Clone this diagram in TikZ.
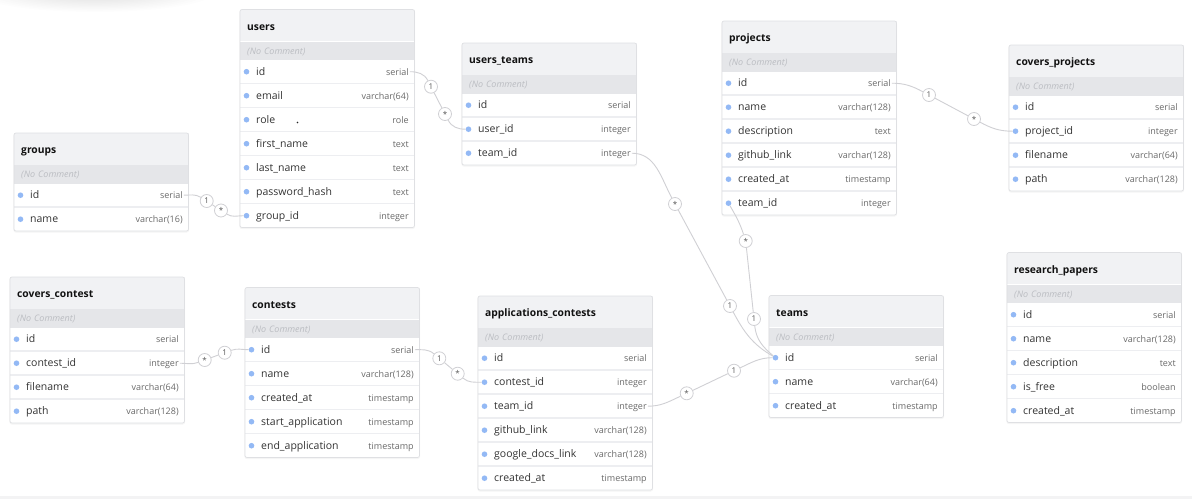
\documentclass[tikz,border=0pt]{standalone}
\usepackage{fontspec}
\setmainfont{Open Sans}
\definecolor{hdrfill}{HTML}{F1F2F4}
\definecolor{cmtfill}{HTML}{E5E6E9}
\definecolor{titlec}{HTML}{111111}
\definecolor{fieldc}{HTML}{333333}
\definecolor{typec}{HTML}{6A6A6A}
\definecolor{cmtc}{HTML}{BBBDC2}
\definecolor{dotc}{HTML}{93B9F5}
\definecolor{sepc}{HTML}{EDEEF1}
\definecolor{borderc}{HTML}{DFE0E3}
\definecolor{connc}{HTML}{D0D0D4}
\definecolor{lblc}{HTML}{555555}
\definecolor{stripc}{HTML}{F3F3F4}
\tikzset{
  erhdr/.style={anchor=north west, fill=hdrfill, minimum width=174.5pt, minimum height=31.5pt,
    inner xsep=7pt, inner ysep=0pt, text width=160.5pt, align=left,
    font=\bfseries\fontsize{10.3pt}{12pt}\selectfont, text=titlec, text height=11pt, text depth=1pt},
  ercmt/.style={anchor=north west, fill=cmtfill, minimum height=18.5pt, inner xsep=7pt,
    inner ysep=0pt, text width=160.5pt, align=left,
    font=\itshape\fontsize{9pt}{10pt}\selectfont, text=cmtc, text height=6.8pt, text depth=0pt},
  errow/.style={anchor=north west, minimum width=174.5pt, minimum height=24pt, inner sep=0pt},
  erdot/.style={circle, fill=dotc, minimum size=5.6pt, inner sep=0pt},
  erfield/.style={anchor=west, inner sep=0pt, font=\fontsize{10.5pt}{12pt}\selectfont,
    text=fieldc, text height=8.6pt, text depth=1.5pt},
  ertype/.style={anchor=east, inner sep=1pt, font=\fontsize{9pt}{10pt}\selectfont,
    text=typec, text height=8pt, text depth=0.5pt},
  ersep/.style={draw=sepc, line width=1.2pt},
  erborder/.style={draw=borderc, line width=0.7pt},
  ershadow/.style={fill=black, opacity=0.04},
  conn/.style={draw=connc, line width=0.9pt},
  lbl/.style={circle, draw=connc, line width=0.8pt, fill=white, minimum size=13pt, inner sep=0pt,
    font=\fontsize{8pt}{9pt}\selectfont, text=lblc},
}
\newcommand\ertable[6]{%
  \pgfmathsetmacro\erbot{#3+50+24*#4}%
  \fill[ershadow, rounded corners=2.5pt] ({#2-0.6},{#3+0.4}) rectangle ({#2+175.1},{\erbot+1.6});
  \fill[white, rounded corners=2pt] (#2,#3) rectangle ({#2+174.5},\erbot);
  \node[erhdr] (#1) at (#2,#3) {#5};
  \node[ercmt] (#1-c) at (#1.south west) {(No Comment)};
  \foreach \f/\t [count=\i] in {#6} {%
    \node[errow] (#1-\i) at ({#2},{#3+50+24*(\i-1)}) {};
    \ifnum\i>1 \draw[ersep] (#1-\i.north west) -- (#1-\i.north east);\fi
    \node[erdot] (#1-\i-d) at ([xshift=6.5pt]#1-\i.west) {};
    \node[erfield] (#1-\i-n) at ([xshift=16pt]#1-\i.west) {\f};
    \node[ertype] (#1-\i-t) at ([xshift=-5pt]#1-\i.east) {\t};
  }%
  \draw[erborder, rounded corners=2pt] (#2,#3) rectangle ({#2+174.5},\erbot);
}
\begin{document}
\begin{tikzpicture}[x=1pt, y=-1pt]
\useasboundingbox (0,0) rectangle (1192,499);
\fill[white] (0,0) rectangle (1192,499);
\fill[stripc] (0,496) rectangle (1192,499);
\foreach \k in {0,...,11} {
  \pgfmathsetmacro\ra{120-7*\k}
  \pgfmathsetmacro\rb{20-1.2*\k}
  \fill[black, opacity=0.006] (95,-8) ellipse [x radius=\ra pt, y radius=\rb pt];
}

\ertable{users}{240}{9.5}{7}{users}{id/serial, email/varchar(64), role/role, first\_name/text, last\_name/text, password\_hash/text, group\_id/integer}
\ertable{ut}{462}{43}{3}{users\_teams}{id/serial, user\_id/integer, team\_id/integer}
\ertable{grp}{14}{133}{2}{groups}{id/serial, name/varchar(16)}
\ertable{proj}{722}{21}{6}{projects}{id/serial, name/varchar(128), description/text, github\_link/varchar(128), created\_at/timestamp, team\_id/integer}
\ertable{cproj}{1009}{45}{4}{covers\_projects}{id/serial, project\_id/integer, filename/varchar(64), path/varchar(128)}
\ertable{ccont}{10}{277}{4}{covers\_contest}{id/serial, contest\_id/integer, filename/varchar(64), path/varchar(128)}
\ertable{cont}{245}{287.5}{5}{contests}{id/serial, name/varchar(128), created\_at/timestamp, start\_application/timestamp, end\_application/timestamp}
\ertable{app}{478}{296}{6}{applications\_contests}{id/serial, contest\_id/integer, team\_id/integer, github\_link/varchar(128), google\_docs\_link/varchar(128), created\_at/timestamp}
\ertable{teams}{769}{295.5}{3}{teams}{id/serial, name/varchar(64), created\_at/timestamp}
\ertable{rp}{1007}{252.5}{5}{research\_papers}{id/serial, name/varchar(128), description/text, is\_free/boolean, created\_at/timestamp}

\node[circle, fill=black!85, minimum size=1.6pt, inner sep=0pt] (stray) at (297.5,122.5) {};

% relation labels
\node[lbl] (c1a) at (431,86.7) {1};
\node[lbl] (c1b) at (445,114) {*};
\node[lbl] (c2a) at (206.7,201) {1};
\node[lbl] (c2b) at (221,210.5) {*};
\node[lbl] (c3a) at (929,95) {1};
\node[lbl] (c3b) at (974,119) {*};
\node[lbl] (c4a) at (204.7,360) {*};
\node[lbl] (c4b) at (224.7,352.7) {1};
\node[lbl] (c5a) at (439.3,358.3) {1};
\node[lbl] (c5b) at (457.7,373.7) {*};
\node[lbl] (c6a) at (686.7,393.3) {*};
\node[lbl] (c6b) at (734,370.7) {1};
\node[lbl] (c7a) at (675,204) {*};
\node[lbl] (c7b) at (730,306) {1};
\node[lbl] (c8a) at (745.7,241) {*};
\node[lbl] (c8b) at (754,319) {1};

% connectors
\draw[conn] (users-1-t.east) to[out=0,in=117] (c1a) -- (c1b) to[out=-63,in=180] (ut-2-d);
\draw[conn] (grp-1-t.east) to[out=0,in=148] (c2a) -- (c2b) to[out=-32,in=180] (users-7-d);
\draw[conn] (proj-1-t.east) to[out=0,in=152] (c3a) -- (c3b) to[out=-28,in=180] (cproj-2-d);
\draw[conn] (ccont-2-t.east) to[out=0,in=200] (c4a) -- (c4b) to[out=20,in=180] (cont-1-d);
\draw[conn] (cont-1-t.east) to[out=0,in=140] (c5a) -- (c5b) to[out=-40,in=180] (app-2-d);
\draw[conn] (app-3-t.east) to[out=0,in=205] (c6a) -- (c6b) to[out=25,in=180] (teams-1-d);
\draw[conn] (ut-3-t.east) to[out=0,in=118] (c7a) -- (c7b) to[out=-62,in=150] (teams-1-d);
\draw[conn] (proj-6-d) to[out=-60,in=108] (c8a) -- (c8b) to[out=-84,in=140] (teams-1-d);
\end{tikzpicture}
\end{document}
